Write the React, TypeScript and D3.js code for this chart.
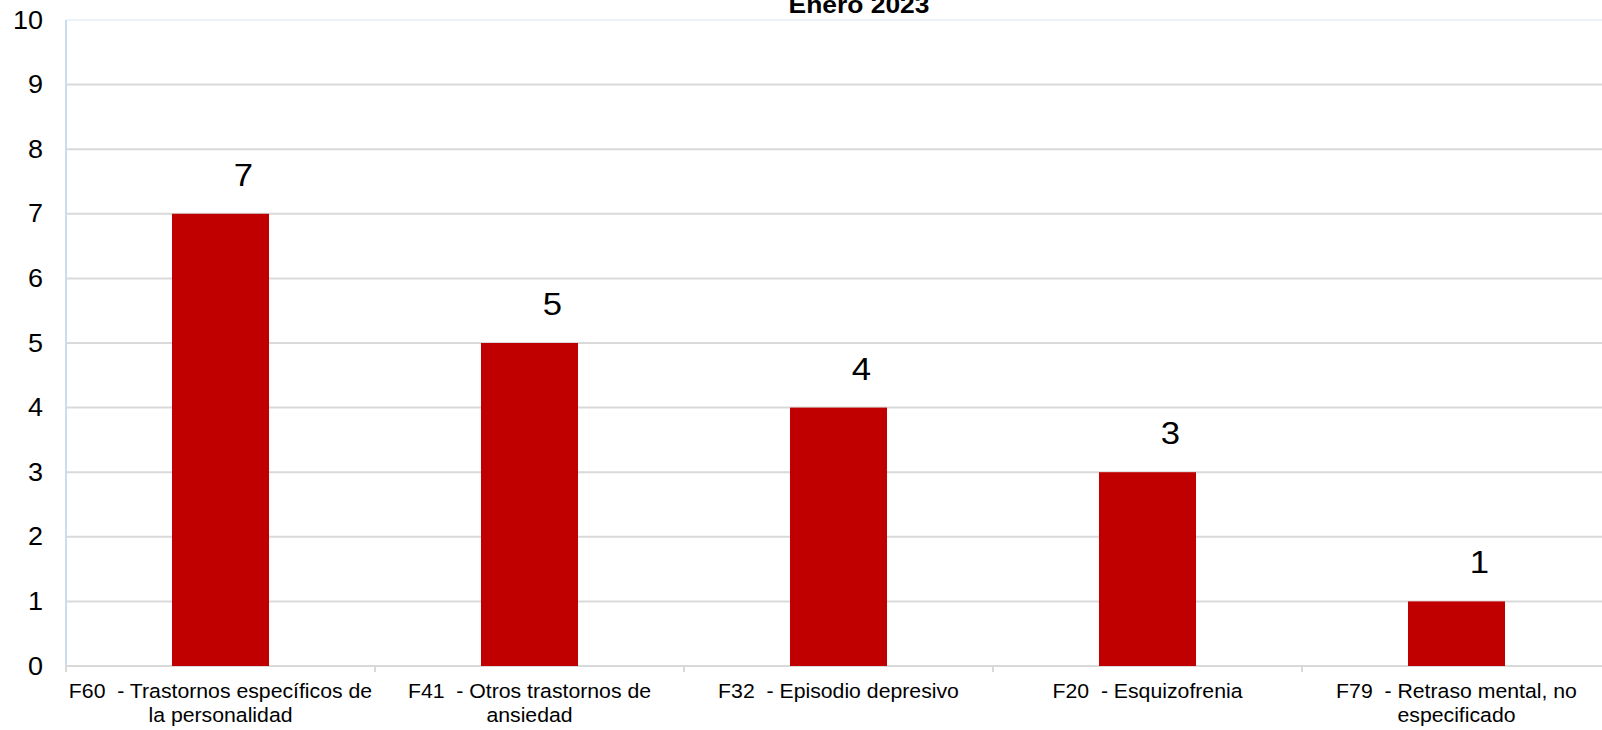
import React, { useEffect, useRef } from 'react';
import * as d3 from 'd3';

// Chart data
const categories = ['F60', 'F41', 'F32', 'F20', 'F79'];
const labelLines = [
  ['F60  - Trastornos específicos de', 'la personalidad'],
  ['F41  - Otros trastornos de', 'ansiedad'],
  ['F32  - Episodio depresivo'],
  ['F20  - Esquizofrenia'],
  ['F79  - Retraso mental, no', 'especificado'],
];
const values = [7, 5, 4, 3, 1];
const yTicks = [0, 1, 2, 3, 4, 5, 6, 7, 8, 9, 10];
const title = 'Enero 2023';

const W = 1602;
const H = 730;

const App: React.FC = () => {
  const ref = useRef<SVGSVGElement>(null);

  useEffect(() => {
    const svg = d3.select(ref.current!);
    svg.selectAll('*').remove();

    const left = 66;
    const right = 66 + 5 * 309;
    const top = 20;
    const bottom = 666;
    const font = 'Arial, "Liberation Sans", sans-serif';

    const y = d3.scaleLinear().domain([0, 10]).range([bottom, top]);
    const band = d3.scaleBand<string>().domain(categories).range([left, right]).padding(0);
    const barScale = d3
      .scaleBand<string>()
      .domain(categories)
      .range([left, right])
      .paddingInner(0.686)
      .paddingOuter(0.343);

    // top border of plot area
    svg
      .append('line')
      .attr('x1', left)
      .attr('x2', right)
      .attr('y1', top)
      .attr('y2', top)
      .attr('stroke', '#eef3fa')
      .attr('stroke-width', 2);

    // gridlines
    svg
      .append('g')
      .selectAll('line')
      .data(yTicks.filter((t) => t > 0 && t < 10))
      .enter()
      .append('line')
      .attr('x1', left)
      .attr('x2', right)
      .attr('y1', (d) => y(d))
      .attr('y2', (d) => y(d))
      .attr('stroke', '#d9d9d9')
      .attr('stroke-width', 2);

    // left axis line
    svg
      .append('line')
      .attr('x1', left)
      .attr('x2', left)
      .attr('y1', top)
      .attr('y2', bottom)
      .attr('stroke', '#c9ddf1')
      .attr('stroke-width', 2);

    // bottom axis + ticks
    svg
      .append('line')
      .attr('x1', left)
      .attr('x2', right)
      .attr('y1', bottom)
      .attr('y2', bottom)
      .attr('stroke', '#d9d9d9')
      .attr('stroke-width', 2);
    const tickXs = categories.map((c) => band(c) as number).concat([right]);
    svg
      .append('g')
      .selectAll('line')
      .data(tickXs)
      .enter()
      .append('line')
      .attr('x1', (d) => d)
      .attr('x2', (d) => d)
      .attr('y1', bottom)
      .attr('y2', bottom + 6)
      .attr('stroke', '#d9d9d9')
      .attr('stroke-width', 2);

    // bars
    svg
      .append('g')
      .selectAll('rect')
      .data(values)
      .enter()
      .append('rect')
      .attr('x', (d, i) => barScale(categories[i]) as number)
      .attr('y', (d) => y(d))
      .attr('width', barScale.bandwidth())
      .attr('height', (d) => bottom - y(d))
      .attr('fill', '#c00000');

    // data labels (sit a bit right of the bar centre, as in the source)
    svg
      .append('g')
      .selectAll('text')
      .data(values)
      .enter()
      .append('text')
      .attr(
        'transform',
        (d, i) =>
          `translate(${(barScale(categories[i]) as number) + barScale.bandwidth() / 2 + 23},${y(d) - 28}) scale(1.12,1)`
      )
      .attr('text-anchor', 'middle')
      .attr('font-family', font)
      .attr('font-size', 31)
      .attr('fill', '#000')
      .text((d) => String(d));

    // y tick labels
    svg
      .append('g')
      .selectAll('text')
      .data(yTicks)
      .enter()
      .append('text')
      .attr('transform', (d) => `translate(43,${y(d) + 8.5}) scale(1.06,1)`)
      .attr('text-anchor', 'end')
      .attr('font-family', font)
      .attr('font-size', 25.5)
      .attr('fill', '#000')
      .text((d) => String(d));

    // x category labels
    const xl = svg.append('g');
    labelLines.forEach((lines, i) => {
      const cx = (band(categories[i]) as number) + band.bandwidth() / 2;
      lines.forEach((line, j) => {
        xl.append('text')
          .attr('transform', `translate(${cx},${698 + j * 24}) scale(1.09,1)`)
          .attr('text-anchor', 'middle')
          .attr('font-family', font)
          .attr('font-size', 19.5)
          .attr('fill', '#000')
          .style('white-space', 'pre')
          .text(line);
      });
    });

    // title
    svg
      .append('text')
      .attr('transform', `translate(859,13) scale(1.1,1)`)
      .attr('text-anchor', 'middle')
      .attr('font-family', font)
      .attr('font-size', 24)
      .attr('font-weight', 'bold')
      .attr('fill', '#000')
      .text(title);
  }, []);

  return (
    <svg
      ref={ref}
      width={W}
      height={H}
      style={{ position: 'absolute', left: 0, top: 0, background: '#fff' }}
    />
  );
};

export default App;
